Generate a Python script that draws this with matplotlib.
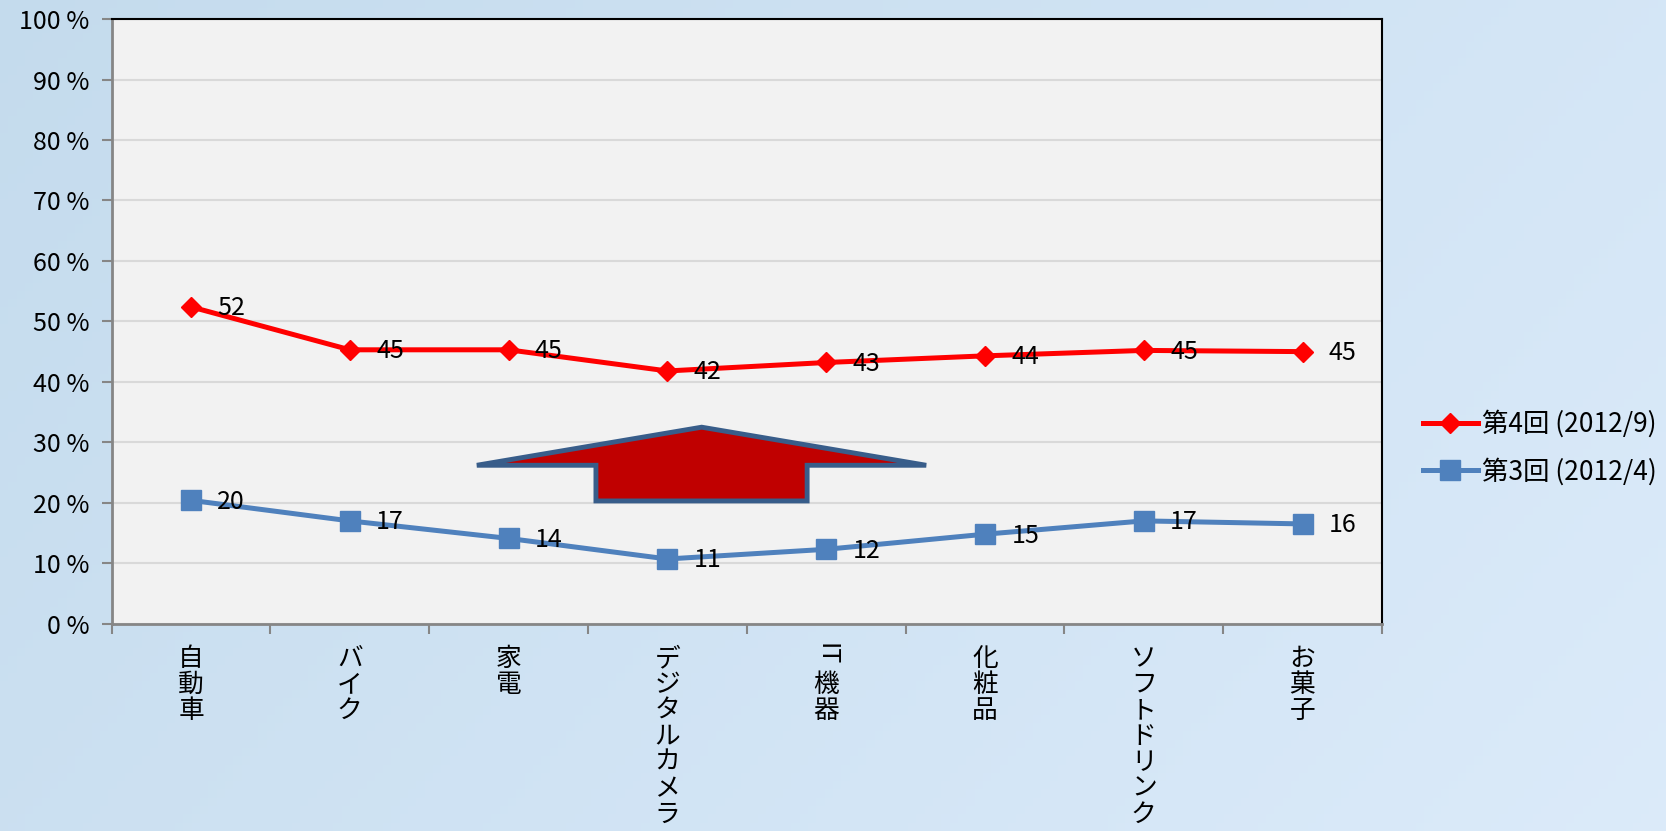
import numpy as np
import matplotlib
matplotlib.use("Agg")
from matplotlib import pyplot as plt
from matplotlib.patches import Polygon
from matplotlib.transforms import ScaledTranslation

plt.rcParams['font.family'] = ['Noto Sans CJK JP', 'DejaVu Sans']

# data
categories = ['自動車', 'バイク', '家電', 'デジタルカメラ', 'IT機器', '化粧品', 'ソフトドリンク', 'お菓子']
round4 = [52.4, 45.3, 45.3, 41.8, 43.2, 44.3, 45.2, 45.0]
round3 = [20.4, 17.0, 14.1, 10.7, 12.3, 14.8, 17.0, 16.5]
round4_labels = ['52', '45', '45', '42', '43', '44', '45', '45']
round3_labels = ['20', '17', '14', '11', '12', '15', '17', '16']
series_names = ['第4回 (2012/9)', '第3回 (2012/4)']
yticks = list(range(0, 101, 10))

fig = plt.figure(figsize=(16.66, 8.31), dpi=100)

# light blue slide background
bg = fig.add_axes([0, 0, 1, 1], zorder=-10)
gx, gy = np.meshgrid(np.linspace(0, 1, 200), np.linspace(0, 1, 100))
c0 = np.array([0.77, 0.86, 0.93])
c1 = np.array([0.86, 0.92, 0.98])
t = np.clip(0.7 * gx + 0.3 * gy, 0, 1)[..., None]
bg.imshow(c0 * (1 - t) + c1 * t, aspect='auto', extent=(0, 1, 0, 1))
bg.axis('off')

ax = fig.add_axes([0.067, 0.2495, 0.7625, 0.7275])
ax.set_facecolor('#F2F2F2')

x = np.arange(len(categories))
ax.plot(x, round4, color='#FF0000', lw=3.6, marker='D', ms=10, zorder=5, label=series_names[0])
ax.plot(x, round3, color='#4F81BD', lw=3.6, marker='s', ms=14, zorder=5, label=series_names[1])

for xi, v, s in zip(x, round4, round4_labels):
    ax.annotate(s, (xi, v), xytext=(19, -1), textcoords='offset points',
                va='center', ha='left', fontsize=18, zorder=6)
for xi, v, s in zip(x, round3, round3_labels):
    ax.annotate(s, (xi, v), xytext=(19, -1), textcoords='offset points',
                va='center', ha='left', fontsize=18, zorder=6)

# big up arrow between the two series
arrow = Polygon([(1.8, 26.2), (3.216, 32.5), (4.63, 26.2), (3.88, 26.2),
                 (3.88, 20.3), (2.55, 20.3), (2.55, 26.2)],
                closed=True, facecolor='#C00000', edgecolor='#385D8A', lw=3.5, zorder=4)
ax.add_patch(arrow)

ax.set_xlim(-0.5, len(categories) - 0.5)
ax.set_ylim(0, 100)
ax.set_yticks(yticks)
ax.set_yticklabels([f'{v} %' for v in yticks], fontsize=18)
ax.yaxis.grid(True, color='#D9D9D9', lw=1.5)
ax.set_axisbelow(True)

labels = ['\n'.join(c) for c in categories]
labels[4] = '機\n器'
ax.set_xticks(x)
ax.set_xticklabels(labels, fontsize=18.5, linespacing=1.0, va='top')
ax.set_xticks(np.arange(-0.5, len(categories)), minor=True)
ax.tick_params(axis='x', which='major', length=0, pad=16)
ax.tick_params(axis='x', which='minor', length=7, width=1.5, color='#868686', direction='out')
ax.tick_params(axis='y', length=7, width=1.5, color='#868686', pad=9)

# "IT" is set sideways in the vertical label, so push the rest of that label down
lbl = ax.get_xticklabels()[4]
lbl.set_transform(lbl.get_transform() + ScaledTranslation(0, -0.26, fig.dpi_scale_trans))
ax.annotate('IT', xy=(4, 0), xycoords=('data', 'axes fraction'), xytext=(0, -14),
            textcoords='offset points', rotation=-90, ha='center', va='top', fontsize=18)

for side in ['top', 'right']:
    ax.spines[side].set_color('black')
    ax.spines[side].set_linewidth(1.5)
for side in ['left', 'bottom']:
    ax.spines[side].set_color('#868686')
    ax.spines[side].set_linewidth(2)

fig.legend(loc='center left', bbox_to_anchor=(0.846, 0.461), frameon=False,
           fontsize=19, borderpad=0, handlelength=2.1, handletextpad=0.15,
           labelspacing=0.75)

fig.savefig('out.png', dpi=100)
